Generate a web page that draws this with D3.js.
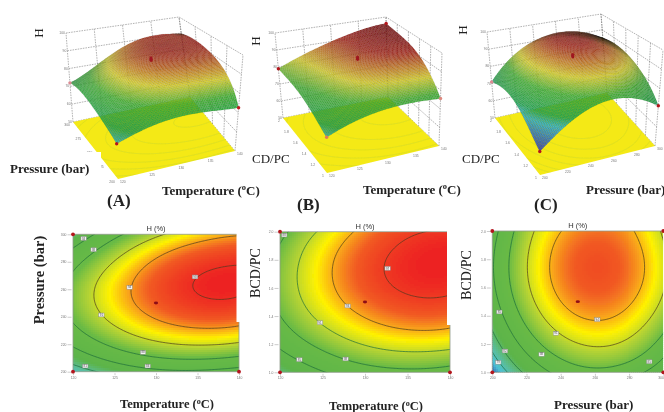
<!DOCTYPE html>
<html><head><meta charset="utf-8">
<script src="https://cdn.jsdelivr.net/npm/d3@7"></script>
<style>html,body{margin:0;padding:0;background:#fff;overflow:hidden}svg{display:block}</style>
</head><body><svg id="c" width="664" height="412"></svg>
<script>
// ---------- data ----------
const temperatureTicks = [120,125,130,135,140];
const pressureTicks = [200,220,240,260,280,300];
const pressureTicks3d = [200,225,250,275,300];
const ratioTicks = [1,1.2,1.4,1.6,1.8,2];
const hTicks = [50,60,70,80,90,100];

// contour-plot response, rows = y axis low to high, columns = x axis low to high
const contourA = [
 [78.6,81.7,83.5,83.8,82.9],
 [84.7,88.2,90.4,91.2,90.6],
 [88.0,91.9,94.5,95.8,95.6],
 [88.6,92.9,95.9,97.6,97.8],
 [86.4,91.1,94.6,96.6,97.3],
 [81.4,86.6,90.4,92.9,94.0]];
const contourB = [
 [80.9,84.3,86.3,87.1,86.5],
 [85.1,88.6,90.9,91.9,91.6],
 [87.7,91.5,94.0,95.3,95.2],
 [88.9,92.9,95.7,97.2,97.3],
 [88.6,92.9,95.9,97.6,98.0],
 [86.8,91.3,94.6,96.5,97.1]];
const contourC = [
 [76.0,83.3,86.9,86.7,82.8],
 [80.0,87.3,90.9,90.8,86.8],
 [82.8,90.1,93.7,93.5,89.6],
 [84.4,91.7,95.3,95.1,91.2],
 [84.7,92.0,95.6,95.4,91.5],
 [83.7,91.1,94.6,94.5,90.6]];
const levelsA = [80.5,84.25,87.5,91,94.25,97.5];
const levelsB = [84.5,87.75,90.75,93.85,96.9];
const levelsC = [79,81.5,85,88,91,93.7];

// 3D surface heights, rows = depth axis low to high, columns = x axis low to high
const surfaceA = [
 [66.5,71,73.5,73.5,72.5],
 [69.5,78,83,84.5,85],
 [72,82.5,88.5,90,90],
 [73.5,83,89.5,91,91.5],
 [72,79.5,87.5,91,89.5]];
const surfaceB = [
 [67,72,75,76,75.5],
 [71,78,83,85,86],
 [75,81.5,87.5,90.5,92],
 [77.5,83.5,89,92.5,94.5],
 [79,85,90,94,96]];
const surfaceC = [
 [61,71.5,78,78,71],
 [67,80.5,87,86.5,79.5],
 [72.5,85.5,92,92,84.5],
 [74,87.5,94,93.5,86.5],
 [71,85.5,92,92,84.5]];
const centerHeights = [92,91.5,92];

// contour labels: fractional position on the plot + level shown
const labelsA = [[.064,.97,84],[.124,.888,88],[.171,.413,91],[.341,.614,94],[.735,.69,98],[.422,.141,88],[.45,.041,84],[.074,.041,81]];
const labelsB = [[.025,.976,88],[.235,.353,91],[.398,.472,94],[.633,.739,97],[.114,.09,85],[.386,.095,88]];
const labelsC = [[.041,.427,85],[.372,.276,91],[.288,.127,88],[.614,.373,94],[.074,.151,82],[.035,.071,79],[.918,.075,85]];

// ---------- colour ----------
const heat2d = d3.scaleLinear()
 .domain([75.5,78,80,82.5,88,90.5,92.5,94,95.5,98])
 .range(["#27409b","#4cc2d6","#5abd9a","#5cb449","#68ba45","#b5d334","#fff200","#f9a51a","#f15a24","#ed2024"]).clamp(true);
const heat3d = d3.scaleLinear()
 .domain([58,66,69.5,77,83,87,91,95])
 .range(["#3f4cc0","#3cbcd8","#2cb058","#4cbc3c","#e6de34","#d88a2c","#b82e22","#8a1616"]).clamp(true);

// ---------- helpers ----------
const svg = d3.select("#c");
const defs = svg.append("defs");
defs.append("filter").attr("id","soft").attr("filterUnits","userSpaceOnUse").attr("x",0).attr("y",0).attr("width",664).attr("height",412)
  .append("feGaussianBlur").attr("stdDeviation",0.38);
const root = svg.append("g").attr("filter","url(#soft)");

function weights(n,t){ // Lagrange weights on n evenly spaced nodes
  const w=[]; for(let i=0;i<n;i++){let p=1; for(let j=0;j<n;j++) if(j!==i) p*=(t*(n-1)-j)/(i-j); w.push(p);} return w;
}
function field(grid,u,v){
  const wu=weights(grid[0].length,u), wv=weights(grid.length,v); let s=0;
  for(let r=0;r<grid.length;r++) for(let c=0;c<grid[0].length;c++) s+=grid[r][c]*wv[r]*wu[c];
  return s;
}
const bil=(q,u,v)=>[0,1].map(k=>
  q.near[k]*(1-u)*(1-v)+q.right[k]*u*(1-v)+q.left[k]*(1-u)*v+q.far[k]*u*v);
const zScale=d3.scaleLinear().domain([50,100]).range([0,1]);
const line=d3.line();
let clipN=0;

function contourRings(grid,levels,pad){
  const nx=130,ny=110,vals=new Float64Array(nx*ny);
  const U=d3.scaleLinear().domain([.5,nx-.5]).range([-pad,1+pad]);
  const V=d3.scaleLinear().domain([.5,ny-.5]).range([-pad,1+pad]);
  for(let j=0;j<ny;j++)for(let i=0;i<nx;i++)vals[j*nx+i]=field(grid,U(i+.5),V(j+.5));
  const cs=d3.contours().size([nx,ny]).thresholds(levels)(vals);
  return cs.map(c=>({value:c.value,rings:c.coordinates.flatMap(p=>p).map(r=>r.map(([x,y])=>[U(x),V(y)]))}));
}

// ---------- 2D contour panel ----------
function contourPanel(o){
  const g=root.append("g");
  const x=d3.scaleLinear().domain([0,1]).range(o.xr), y=d3.scaleLinear().domain([0,1]).range(o.yr);
  const dx=o.xr[1]-o.xr[0], dy=o.yr[0]-o.yr[1];
  const step=2, nx=Math.ceil(dx/step), ny=Math.ceil(dy/step), cells=[];
  for(let j=0;j<ny;j++)for(let i=0;i<nx;i++){
    cells.push({u:(i+.5)/nx,v:(j+.5)/ny,i,j});
  }
  const id="cl"+(clipN++);
  defs.append("clipPath").attr("id",id).append("rect").attr("x",o.xr[0]).attr("y",o.yr[1]).attr("width",dx).attr("height",dy);
  const pg=g.append("g").attr("clip-path",`url(#${id})`);
  pg.append("g").attr("shape-rendering","crispEdges").selectAll("rect").data(cells).join("rect")
    .attr("x",d=>x(d.i/nx)).attr("y",d=>y((d.j+1)/ny)).attr("width",dx/nx+.4).attr("height",dy/ny+.4)
    .attr("fill",d=>heat2d(field(o.grid,d.u,d.v)));
  const rings=contourRings(o.grid,o.levels,.06);
  rings.forEach(c=>{
    pg.append("path").attr("fill","none")
      .attr("stroke",c.value>=91?"#4a3b1e":"#1c6b3c").attr("stroke-width",.7)
      .attr("d",c.rings.map(r=>line(r.map(([a,b])=>[x(a),y(b)]))).join(""));
  });
  // white strip at the right edge of the upper plot
  g.append("rect").attr("x",o.xr[1]-o.strip).attr("y",o.yr[1]-1).attr("width",o.strip+1).attr("height",o.stripBottom-o.yr[1]+1).attr("fill","#fff");
  // frame
  g.append("path").attr("fill","none").attr("stroke","#8f9a8a").attr("stroke-width",.8)
    .attr("d",`M${o.xr[0]},${o.yr[0]}V${o.yr[1]}H${o.xr[1]-o.strip}M${o.xr[0]},${o.yr[0]}H${o.xr[1]}V${o.stripBottom}`);
  // axes
  const ax=d3.scaleLinear().domain(d3.extent(o.xt)).range(o.xr), ay=d3.scaleLinear().domain(d3.extent(o.yt)).range(o.yr);
  const gx=g.append("g").attr("transform",`translate(0,${o.yr[0]+1.5})`).call(d3.axisBottom(ax).tickValues(o.xt).tickSize(2).tickPadding(1));
  const gy=g.append("g").attr("transform",`translate(${o.xr[0]-1.5},0)`).call(d3.axisLeft(ay).tickValues(o.yt).tickSize(4).tickPadding(1));
  [gx,gy].forEach(a=>{a.select(".domain").remove();a.selectAll("line").attr("stroke","#999").attr("stroke-width",.5);
    a.selectAll("text").attr("font-size",3.4).attr("fill","#777").attr("font-family","Liberation Sans");});
  gx.selectAll("text").filter(d=>d===o.xt[o.xt.length-1]&&o.xr[1]>655).attr("text-anchor","end");
  // labels
  const lb=g.append("g").selectAll("g").data(o.labels).join("g").attr("transform",d=>`translate(${x(d[0])},${y(d[1])})`);
  lb.append("rect").attr("x",-2.7).attr("y",-1.9).attr("width",5.4).attr("height",3.8).attr("fill","#f2f2f2").attr("stroke","#8a8a8a").attr("stroke-width",.45);
  lb.append("text").attr("text-anchor","middle").attr("y",1.1).attr("font-size",3).attr("fill","#555").attr("font-family","Liberation Sans").text(d=>d[2]);
  // design points
  g.selectAll("circle.pt").data(o.points).join("circle").attr("class","pt").attr("cx",d=>x(d[0])).attr("cy",d=>y(d[1])).attr("r",1.9).attr("fill","#b3151f");
  g.append("ellipse").attr("cx",x(.5)).attr("cy",y(.5)).attr("rx",2.1).attr("ry",1.4).attr("fill","#8e1018");
  // title
  g.append("text").attr("x",x(.5)).attr("y",o.yr[1]-3).attr("text-anchor","middle").attr("font-family","Liberation Sans").attr("font-size",7.5).attr("fill","#333").text("H (%)");
}

// ---------- 3D surface panel ----------
function surfacePanel(o){
  const g=root.append("g");
  const P=(u,v,h)=>{const b=bil(o.base,u,v),t=bil(o.top,u,v),z=zScale(h);return [b[0]+(t[0]-b[0])*z,b[1]+(t[1]-b[1])*z];};
  const wall=g.append("g").attr("fill","none").attr("stroke","#666").attr("stroke-width",.5);
  const dash="1.6 1";
  const uS=d3.scaleLinear().domain(d3.extent(o.xt)).range([0,1]), vS=d3.scaleLinear().domain(d3.extent(o.dt)).range([0,1]);
  hTicks.forEach(h=>{
    wall.append("path").attr("stroke-dasharray",dash).attr("d",line([P(0,1,h),P(1,1,h),P(1,0,h)]));
  });
  o.xt.forEach(t=>wall.append("path").attr("stroke-dasharray",dash).attr("d",line([P(uS(t),1,50),P(uS(t),1,100)])));
  o.dt.forEach(t=>wall.append("path").attr("stroke-dasharray",dash).attr("d",line([P(1,vS(t),50),P(1,vS(t),100)])));
  // yellow floor
  const floor=[P(0,0,50),P(1,0,50),P(1,1,50),P(0,1,50)];
  const id="cl"+(clipN++);
  defs.append("clipPath").attr("id",id).append("path").attr("d",line(floor)+"Z");
  g.append("path").attr("d",line(floor)+"Z").attr("fill","#f4e914");
  const fl=g.append("g").attr("clip-path",`url(#${id})`);
  contourRings(o.contour,o.levels,.06).forEach(c=>{
    fl.append("path").attr("fill","none").attr("stroke","#c8d63a").attr("stroke-width",.45)
      .attr("d",c.rings.map(r=>line(r.map(([a,b])=>P(a,b,50)))).join(""));
  });
  // ticks + labels on floor edges and height axis
  const tk=g.append("g").attr("font-family","Liberation Sans").attr("font-size",3.4).attr("fill","#777");
  o.xt.forEach(t=>{const p=P(uS(t),0,50);
    tk.append("text").attr("x",p[0]+2).attr("y",p[1]+4).text(t);});
  o.dt.forEach(t=>{const p=P(0,vS(t),50);
    tk.append("text").attr("x",p[0]-3).attr("y",p[1]+3.5).attr("text-anchor","end").text(t);});
  hTicks.forEach(h=>{const p=P(0,1,h);
    tk.append("text").attr("x",p[0]-1).attr("y",p[1]+1).attr("text-anchor","end").text(h);});
  // surface mesh, drawn far to near; foreshortened cells go dark like the dense mesh in the picture
  const n=74, cols=[];
  const val=[]; for(let j=0;j<=n;j++){val.push([]);for(let i=0;i<=n;i++)val[j].push(field(o.surface,i/n,j/n));}
  for(let j=n-1;j>=0;j--)for(let i=n-1;i>=0;i--){
    const q=[P(i/n,j/n,val[j][i]),P((i+1)/n,j/n,val[j][i+1]),P((i+1)/n,(j+1)/n,val[j+1][i+1]),P(i/n,(j+1)/n,val[j+1][i])];
    cols.push({i,j,q,area:Math.abs(d3.polygonArea(q))});
  }
  const meanArea=d3.mean(cols,d=>d.area);
  const shade=d3.scaleLinear().domain([0,meanArea*.45]).range([3,0]).clamp(true);
  g.append("g").selectAll("path").data(cols).join("path")
    .attr("d",d=>line(d.q)+"Z")
    .attr("fill",d=>d3.color(heat3d(val[d.j][d.i]-o.shift)).darker(shade(d.area)).formatHex())
    .attr("stroke","#050505").attr("stroke-width",.2).attr("stroke-opacity",.38);
  // design points
  o.corners.forEach(c=>{const p=P(c[0],c[1],field(o.surface,c[0],c[1]));
    g.append("circle").attr("cx",p[0]).attr("cy",p[1]).attr("r",1.7).attr("fill",c[2]);});
  [-.6,0,.6].forEach(k=>{const p=P(.5,.5,o.center+k);
    g.append("ellipse").attr("cx",p[0]).attr("cy",p[1]).attr("rx",1.5).attr("ry",1.7).attr("fill","#a01620");});
}

surfacePanel({
  base:{near:[118,179],right:[235,151],left:[73,122],far:[190,97]},
  top:{near:[114,72],right:[243,55],left:[66,33],far:[179,17]},
  surface:surfaceA,contour:contourA,levels:levelsA,shift:0,center:centerHeights[0],
  xt:temperatureTicks,dt:pressureTicks3d,
  corners:[[0,0,"#b3151f"],[0,1,"#dd8a92"],[1,0,"#c01c24"]]});
surfacePanel({
  base:{near:[327,173],right:[439,146],left:[283,118],far:[388,97]},
  top:{near:[326,68],right:[442,53],left:[275,33],far:[386,17]},
  surface:surfaceB,contour:contourB,levels:levelsB,shift:0,center:centerHeights[1],
  xt:temperatureTicks,dt:ratioTicks,
  corners:[[0,0,"#e07a5a"],[0,1,"#b3151f"],[1,0,"#dd8a80"],[1,1,"#b3151f"]]});
surfacePanel({
  base:{near:[540,175],right:[655,146],left:[495,118],far:[607,93]},
  top:{near:[539,68],right:[663,50],left:[487,32],far:[601,14]},
  surface:surfaceC,contour:contourC,levels:levelsC,shift:3,center:centerHeights[2],
  xt:pressureTicks,dt:ratioTicks,
  corners:[[0,0,"#b3151f"],[0,1,"#dd8a92"],[1,0,"#b3151f"]]});

contourPanel({xr:[73,239],yr:[371.7,234.3],grid:contourA,levels:levelsA,labels:labelsA,strip:2.5,stripBottom:322,
  xt:temperatureTicks,yt:pressureTicks,points:[[0,1],[0,0],[1,0]]});
contourPanel({xr:[280,450],yr:[372.3,231.7],grid:contourB,levels:levelsB,labels:labelsB,strip:3,stripBottom:325,
  xt:temperatureTicks,yt:ratioTicks,points:[[0,1],[0,0],[1,0]]});
contourPanel({xr:[492.3,663.3],yr:[372.3,231],grid:contourC,levels:levelsC,labels:labelsC,strip:0,stripBottom:372.3,
  xt:pressureTicks,yt:ratioTicks,points:[[0,1],[1,1],[0,0],[1,0]]});

// ---------- text ----------
root.append("rect").attr("x",74).attr("y",152).attr("width",27).attr("height",24).attr("fill","#fff");
const serif="Liberation Serif";
function label(t,x,y,size,bold,rot,anchor){
  const s=root.append("text").attr("font-family",serif).attr("font-size",size).attr("font-weight",bold?"bold":"normal")
    .attr("fill","#222").attr("text-anchor",anchor||"start")
    .attr("transform",`translate(${x},${y})`+(rot?` rotate(${rot})`:""));
  if(Array.isArray(t)){
    s.append("tspan").text(t[0]);
    s.append("tspan").attr("dy",-size*.35).attr("font-size",size*.65).text(t[1]);
    s.append("tspan").attr("dy",size*.35).text(t[2]);
  } else s.text(t);
}
const tempLabel=["Temperature (","o","C)"];
label("H",43,33,13,false,-90,"middle");
label("H",260,41,13,false,-90,"middle");
label("H",467,30,13,false,-90,"middle");
label("Pressure (bar)",10,173,13,true);
label(tempLabel,162,195,13,true);
label("(A)",107,206,17,true);
label("CD/PC",252,163,13,false);
label(tempLabel,363,194,13,true);
label("(B)",297,210,17,true);
label("CD/PC",462,163,13,false);
label("Pressure (bar)",586,194,13,true);
label("(C)",534,210,17,true);
label("Pressure (bar)",44,280,14.5,true,-90,"middle");
label(tempLabel,120,408,12.5,true);
label("BCD/PC",260,273,14,false,-90,"middle");
label(tempLabel,329,410,12.5,true);
label("BCD/PC",471,275,14,false,-90,"middle");
label("Pressure (bar)",554,409,13,true);
</script></body></html>
